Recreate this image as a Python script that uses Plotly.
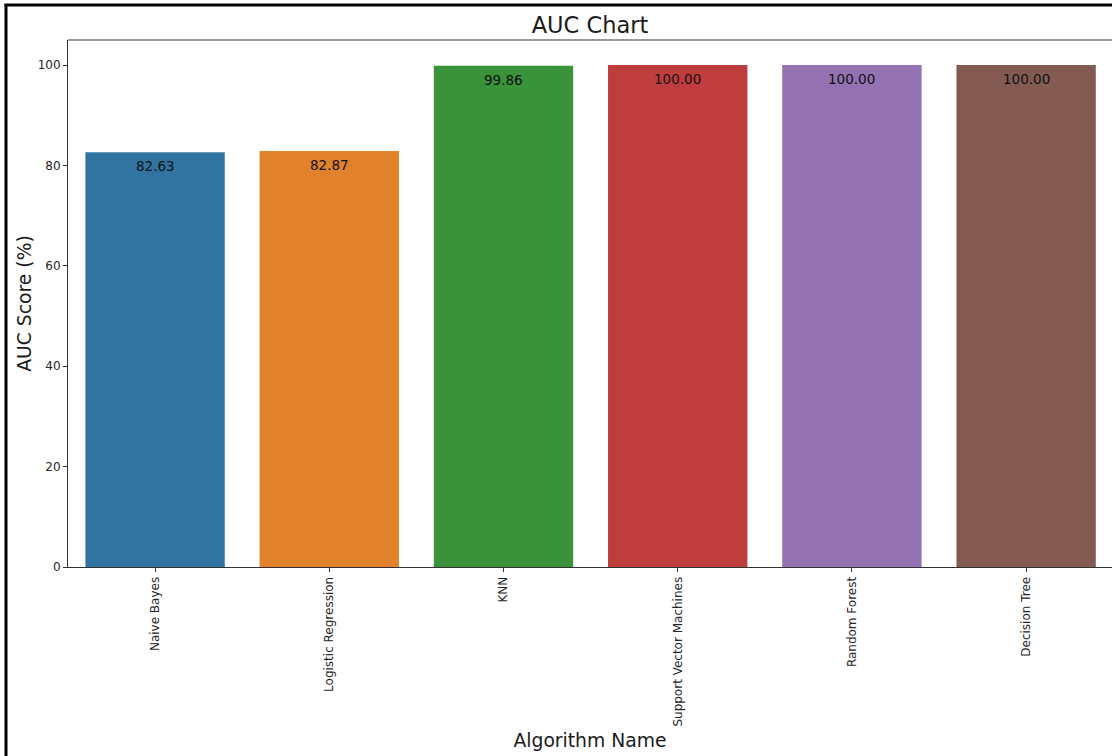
import plotly.graph_objects as go

# AUC scores per algorithm
algorithms = ["Naive Bayes", "Logistic Regression", "KNN",
              "Support Vector Machines", "Random Forest", "Decision Tree"]
auc_scores = [82.63, 82.87, 99.86, 100.00, 100.00, 100.00]
bar_colors = ["#3274a1", "#e1812c", "#3a923a", "#c03d3e", "#9372b2", "#845b53"]
y_ticks = [0, 20, 40, 60, 80, 100]

W, H = 1112, 756
L, R, T, B = 68, 0, 40, 189
plot_w = W - L - R
plot_h = H - T - B

FONT = "DejaVu Sans, Liberation Sans, sans-serif"
AXIS = "#333333"
TEXT = "#262626"

fig = go.Figure(
    go.Bar(
        x=list(range(len(algorithms))),
        y=auc_scores,
        marker=dict(color=bar_colors, line=dict(width=0)),
        width=0.8,
        hoverinfo="skip",
    )
)

# value labels just inside the top of each bar
for i, v in enumerate(auc_scores):
    fig.add_annotation(
        x=i, y=v, text=f"{v:.2f}", showarrow=False,
        yanchor="top", xanchor="center", yshift=-4,
        font=dict(family=FONT, size=13.5, color="#111111"),
    )


def px_x(px):
    return (px - L) / plot_w


def px_y(py):
    return (H - B - py) / plot_h


# top spine of the axes
fig.add_shape(type="line", xref="paper", yref="paper",
              x0=0, x1=1, y0=1, y1=1,
              line=dict(color=AXIS, width=1))
# outer figure frame (left and top edges)
fig.add_shape(type="line", xref="paper", yref="paper",
              x0=px_x(6), x1=px_x(6), y0=px_y(4), y1=px_y(H),
              line=dict(color="black", width=3))
fig.add_shape(type="line", xref="paper", yref="paper",
              x0=px_x(4.5), x1=px_x(W), y0=px_y(5), y1=px_y(5),
              line=dict(color="black", width=3))

fig.update_layout(
    width=W, height=H,
    margin=dict(l=L, r=R, t=T, b=B, autoexpand=False),
    paper_bgcolor="white", plot_bgcolor="white",
    showlegend=False,
    bargap=0.2,
    font=dict(family=FONT, color=TEXT),
    title=dict(text="AUC Chart", x=(L + plot_w / 2) / W, xanchor="center",
               y=1 - 25 / H, yanchor="middle",
               font=dict(family=FONT, size=22.5, color="#1a1a1a")),
)

fig.update_xaxes(
    range=[-0.5, 5.493],
    tickmode="array",
    tickvals=list(range(len(algorithms))),
    ticktext=algorithms,
    tickangle=-90,
    ticks="outside", ticklen=4, tickwidth=1, tickcolor=AXIS,
    tickfont=dict(family=FONT, size=12, color=TEXT),
    showline=True, linecolor=AXIS, linewidth=1,
    showgrid=False, zeroline=False,
    title=dict(text="Algorithm Name", standoff=8,
               font=dict(family=FONT, size=18.75, color="#1a1a1a")),
    automargin=False,
)

fig.update_yaxes(
    range=[0, 105],
    tickmode="array",
    tickvals=y_ticks,
    ticktext=[str(t) for t in y_ticks],
    ticks="outside", ticklen=4, tickwidth=1, tickcolor=AXIS,
    tickfont=dict(family=FONT, size=12, color=TEXT),
    showline=True, linecolor=AXIS, linewidth=1,
    showgrid=False, zeroline=False,
    title=dict(text="AUC Score (%)", standoff=1,
               font=dict(family=FONT, size=18.75, color="#1a1a1a")),
    automargin=False,
)

fig.write_html("out.html")
